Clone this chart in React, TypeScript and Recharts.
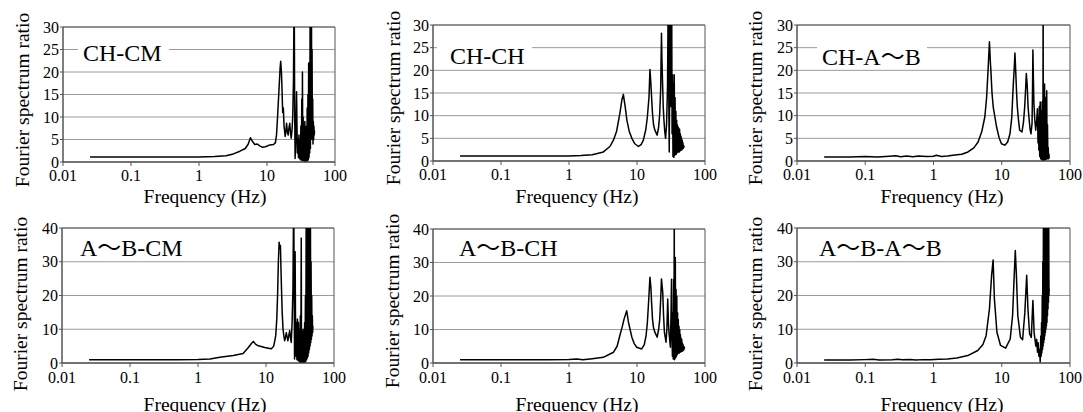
import { CartesianGrid, Line, LineChart, ReferenceArea, XAxis, YAxis } from "recharts";

type Pt = [number, number];

const FONT = "'Liberation Serif', 'Times New Roman', 'Noto Sans CJK JP', serif";

const freqTicks = [0.01, 0.1, 1, 10, 100];
const ticks30 = [0, 5, 10, 15, 20, 25, 30];
const ticks40 = [0, 10, 20, 30, 40];
const titles = ["CH-CM", "CH-CH", "CH-A～B", "A～B-CM", "A～B-CH", "A～B-A～B"];
const xTitle = "Frequency (Hz)";
const yTitle = "Fourier spectrum ratio";

// [frequency Hz, spectrum ratio]
const chCm: Pt[] = [
  [0.025, 1.1], [0.05, 1.1], [0.1, 1.1], [0.3, 1.1], [1, 1.1], [1.7, 1.2], [2.5, 1.4], [3.2, 1.8],
  [4, 2.4], [4.8, 3.0], [5.3, 4.0], [5.7, 5.4], [6.1, 4.6], [6.6, 3.9], [7.2, 4.0], [7.8, 3.6],
  [8.5, 3.3], [9.5, 3.4], [11, 3.8], [12.5, 3.9], [13.3, 4.3], [13.8, 6], [14.3, 10], [15, 16],
  [15.6, 21], [15.9, 22.4], [16.3, 20], [16.6, 16.5], [17, 11], [17.4, 12], [17.8, 8], [18.5, 5.7],
  [19, 7], [19.4, 8.6], [20, 6.5], [20.5, 6], [21, 7.5], [21.6, 8.6], [22.2, 6.5], [22.7, 5.3],
  [23.3, 7], [23.9, 10], [24.5, 18], [25.1, 40], [25.5, 12], [25.9, 0.8], [26.5, 5], [27.2, 15.6],
  [27.6, 8], [27.9, 2], [28.5, 5], [29, 1], [29.5, 6], [30, 0.8], [30.5, 5], [31, 0.5], [31.5, 8],
  [32, 0.5], [32.5, 14], [33, 0.3], [33.2, 20], [33.6, 1], [34, 10], [34.5, 0.3], [35, 7],
  [35.5, 0.2], [36, 9], [36.5, 0.2], [37, 6], [37.5, 0.2], [38, 8], [38.5, 0.2], [39, 12],
  [39.5, 0.3], [40, 15], [40.5, 0.5], [41, 22], [41.5, 1], [42, 15], [42.5, 2], [43, 30],
  [43.5, 3], [44, 40], [44.5, 5], [45, 40], [45.5, 6], [46, 25], [46.5, 5], [47, 14], [47.5, 4],
  [48, 9], [48.5, 5], [49, 8], [49.5, 6], [50, 7],
];

const chCh: Pt[] = [
  [0.025, 1.1], [0.1, 1.1], [0.5, 1.1], [1, 1.1], [1.5, 1.2], [2.2, 1.4], [3.2, 2.0], [4.0, 3.2],
  [4.5, 4.6], [5.0, 6.5], [5.6, 10.5], [6.0, 13.5], [6.3, 14.7], [6.7, 12], [7.1, 9], [7.7, 6.5],
  [8.4, 5], [9.3, 3.8], [10.5, 3.2], [11.5, 3.6], [12.4, 4.6], [13.5, 7], [14.2, 9.7], [15, 14],
  [15.5, 20.2], [15.9, 17.8], [16.4, 14], [16.9, 10.5], [17.5, 8], [18.3, 6.8], [19.8, 5.7],
  [20.8, 7.5], [21.6, 10.5], [22.3, 16], [22.9, 28.2], [23.3, 22], [23.7, 17.8], [24.3, 12],
  [24.9, 9], [25.6, 6.5], [26.3, 5], [27.2, 8], [28.1, 16.4], [28.6, 31], [29, 40], [29.4, 12],
  [29.8, 2], [30.3, 20], [30.8, 40], [31.3, 12], [31.8, 35], [32.3, 40], [32.8, 6], [33.3, 19],
  [33.8, 1], [34.3, 17], [34.8, 0.8], [35.3, 19], [35.8, 1.2], [36.3, 14], [36.8, 1.5], [37.3, 11],
  [37.8, 1.5], [38.3, 9], [38.8, 1.8], [39.3, 8], [39.8, 2], [40.3, 7.5], [40.8, 2], [41.3, 7.2],
  [41.8, 2], [42.3, 7], [42.8, 2.2], [43.3, 6], [43.8, 2.3], [44.3, 5.5], [44.8, 2.4], [45.3, 5],
  [45.8, 2.5], [46.3, 4.5], [46.8, 2.7], [47.3, 4], [47.8, 2.8], [48.3, 3.5], [48.8, 3], [49.3, 3.3],
];

const chAb: Pt[] = [
  [0.025, 0.9], [0.06, 0.9], [0.1, 1.0], [0.15, 0.9], [0.2, 1.0], [0.28, 1.15], [0.33, 0.95],
  [0.4, 1.1], [0.5, 0.95], [0.6, 1.1], [0.8, 1.0], [1.0, 1.05], [1.1, 1.25], [1.3, 1.0], [1.6, 1.1],
  [2.05, 1.3], [2.6, 1.5], [3.2, 2.0], [3.9, 2.9], [4.5, 4.2], [5.1, 6.5], [5.65, 9.7], [6.0, 14],
  [6.3, 20], [6.6, 26.3], [6.8, 22], [6.93, 20], [7.2, 15], [7.5, 11.9], [8.4, 7.5], [9.2, 5],
  [9.9, 3.8], [11.1, 3.5], [12.2, 4.2], [13.2, 6], [14, 9.5], [14.7, 16.4], [15.3, 21], [15.6, 23.8],
  [16, 20], [16.5, 15], [16.9, 12], [17.6, 9], [18.3, 6.8], [19.8, 6.4], [20.8, 8.5], [21.7, 12],
  [22.4, 16], [22.9, 19.3], [23.6, 16.7], [24.3, 12], [25, 9.7], [26, 7], [26.8, 6], [27.8, 8.3],
  [28.2, 15], [28.6, 24.5], [29.1, 18], [29.6, 12.7], [30.5, 9], [31.5, 6.8], [32.5, 9], [33.3, 11.5],
  [34, 4], [34.5, 10], [35, 2.4], [35.5, 12], [36, 1], [36.6, 13], [37.2, 0.5], [37.8, 11],
  [38.4, 0.3], [39, 13], [39.6, 0.2], [40.2, 14], [40.4, 40], [40.6, 0.1], [41.2, 14], [41.8, 0.2],
  [42.4, 17], [43, 0.3], [43.6, 14], [44.2, 0.3], [44.8, 13], [45.3, 0.5], [45.6, 15.5], [46.2, 0.5],
  [46.8, 8], [47.4, 0.5], [48, 3], [48.6, 0.5], [49.2, 1.5], [49.6, 0.6],
];

const abCm: Pt[] = [
  [0.025, 1.0], [0.1, 1.0], [0.5, 1.0], [1, 1.05], [1.5, 1.2], [2.1, 1.7], [3.3, 2.2], [4.6, 2.8],
  [5.5, 4.6], [6.1, 5.8], [6.5, 6.4], [7.0, 5.6], [7.7, 5.1], [8.5, 4.9], [9.6, 4.6], [10.8, 4.4],
  [12, 4.2], [13, 5], [13.9, 8.1], [14.4, 13], [14.8, 20], [15.2, 30], [15.6, 35.8], [16.0, 34],
  [16.3, 34.8], [16.6, 28], [16.9, 22], [17.3, 15], [17.8, 10], [18.3, 8], [18.8, 6.6], [19.3, 7.5],
  [19.9, 9], [20.5, 7.5], [21, 6.6], [21.6, 8], [22.3, 9.6], [22.9, 7.5], [23.5, 6.1], [24.2, 12],
  [24.9, 22], [25.3, 40], [25.6, 48], [26.0, 20], [26.3, 1.2], [26.8, 33], [27.2, 10], [27.6, 2],
  [28, 12], [28.5, 1], [29, 13], [29.5, 0.8], [30, 12], [30.5, 0.5], [31, 10], [31.5, 0.3], [32, 14],
  [32.5, 0.2], [33, 37], [33.3, 0.1], [34, 10], [34.5, 0.1], [35, 9], [35.5, 0.1], [36, 10],
  [36.5, 0.2], [37, 12], [37.5, 0.3], [38, 20], [38.5, 0.5], [39, 45], [39.5, 1], [40, 45],
  [40.5, 1.5], [41, 45], [41.5, 2], [42, 45], [42.5, 3], [43, 45], [43.5, 4], [44, 45], [44.5, 5],
  [45, 45], [45.5, 6], [46, 30], [46.5, 7], [47, 20], [47.5, 8], [48, 14], [48.5, 9], [49, 11],
];

const abCh: Pt[] = [
  [0.025, 1.0], [0.1, 1.0], [0.5, 1.0], [1, 1.05], [1.3, 1.2], [1.6, 1.0], [2.2, 1.3], [3.2, 1.7],
  [4.5, 3.2], [5.1, 5], [5.6, 8.2], [6.1, 11], [6.45, 13.1], [7.06, 15.6], [7.5, 12.1], [8.4, 7.7],
  [9.1, 5.8], [9.9, 4.7], [11.7, 4.2], [12.8, 5.5], [13.6, 8.2], [14.2, 12], [14.7, 17.1],
  [15.5, 25.6], [16, 22.6], [16.4, 18], [16.9, 13.1], [17.5, 10.5], [18.3, 9.2], [19.8, 7.7],
  [20.8, 10], [21.6, 13], [22.3, 19], [22.9, 25.1], [23.4, 23], [23.9, 21.1], [24.6, 14], [25.3, 9.2],
  [26.7, 6.2], [27.5, 10], [28.3, 19.1], [29, 12], [29.6, 9], [31, 4.7], [31.6, 14], [32.2, 25],
  [32.7, 8], [33.2, 2], [33.7, 15], [34.1, 1.2], [34.6, 25], [35.0, 2], [35.3, 45], [35.6, 1],
  [36.1, 28], [36.6, 31.5], [37, 1.5], [37.5, 22], [38, 2], [38.5, 20], [39, 2.5], [39.5, 15],
  [40, 2.8], [40.5, 13], [41, 3], [41.5, 11], [42, 3], [42.5, 10], [43, 3.2], [43.5, 8.5], [44, 3.3],
  [44.5, 7.5], [45, 3.5], [45.5, 7], [46, 3.5], [46.5, 6], [47, 3.6], [47.5, 5.5], [48, 3.8],
  [48.5, 5], [49, 4], [49.5, 4.8], [50, 4.3],
];

const abAb: Pt[] = [
  [0.025, 0.9], [0.06, 0.9], [0.1, 1.0], [0.13, 1.1], [0.16, 0.9], [0.25, 0.95], [0.3, 1.1],
  [0.35, 0.95], [0.45, 1.05], [0.55, 0.9], [0.7, 1.0], [0.9, 0.95], [1.2, 1.1], [1.6, 1.2],
  [2.2, 1.5], [3.18, 2.2], [4.45, 3.7], [5.3, 5.5], [5.9, 8.1], [6.6, 16], [7.1, 25.9], [7.47, 30.5],
  [7.8, 19], [8.5, 9.1], [9.6, 5.2], [11.4, 4.4], [13.3, 7.1], [14.4, 14], [15.3, 26.9], [15.8, 33.3],
  [16.4, 25.9], [17.2, 14], [18.8, 7.6], [20.2, 6.9], [21.8, 15], [23.2, 26], [24.2, 16], [25.6, 8.6],
  [27.1, 7.6], [28.6, 18.5], [29.8, 9], [31.6, 5], [32.5, 7], [33.4, 3.2], [34.2, 6], [35, 2],
  [35.8, 4], [36.6, 0.3], [37.3, 8], [37.8, 2], [38.3, 12], [38.7, 3], [39.2, 20], [39.6, 4],
  [40, 30], [40.4, 5], [40.8, 45], [41.2, 6], [41.6, 45], [42, 7], [42.4, 45], [42.8, 8], [43.2, 45],
  [43.6, 9], [44, 45], [44.4, 10], [44.8, 45], [45.2, 11], [45.6, 45], [46, 12], [46.4, 45],
  [46.8, 14], [47.2, 45], [47.6, 16], [48, 45], [48.4, 18], [48.8, 40], [49.2, 20], [49.6, 22],
];

const panels = [
  { title: titles[0], data: chCm, yMax: 30, yTicks: ticks30 },
  { title: titles[1], data: chCh, yMax: 30, yTicks: ticks30 },
  { title: titles[2], data: chAb, yMax: 30, yTicks: ticks30 },
  { title: titles[3], data: abCm, yMax: 40, yTicks: ticks40 },
  { title: titles[4], data: abCh, yMax: 40, yTicks: ticks40 },
  { title: titles[5], data: abAb, yMax: 40, yTicks: ticks40 },
];

// page positions: plot box, y title centre, x title centre, panel title start/baseline, white box
const layout = [
  { l: 63, t: 27, w: 272, h: 135, yLab: [22, 100], xLab: [205, 196], tit: [83, 61], box: [78, 40, 91, 26], tm: 4 },
  { l: 433, t: 25, w: 272, h: 136, yLab: [393, 98], xLab: [577, 196], tit: [450, 64], box: [437, 42, 95, 27], tm: 4 },
  { l: 797, t: 25, w: 273, h: 136, yLab: [755, 98], xLab: [942, 196], tit: [822, 65], box: [817, 42, 110, 27], tm: 4 },
  { l: 62, t: 228, w: 272, h: 135, yLab: [20, 304], xLab: [205, 404], tit: [80, 256], box: [75, 234, 115, 25], tm: 5 },
  { l: 433, t: 229, w: 272, h: 134, yLab: [392, 301], xLab: [577, 404], tit: [459, 256], box: [454, 234, 109, 25], tm: 5 },
  { l: 797, t: 228, w: 273, h: 135, yLab: [755, 304], xLab: [942, 404], tit: [819, 256], box: [814, 234, 130, 25], tm: 5 },
];

const PAD_L = 72;
const PAD_T = 30;
const PAD_R = 14;
const PAD_B = 52;

function Panel({ idx }: { idx: number }) {
  const p = panels[idx];
  const g = layout[idx];
  const left = g.l - PAD_L;
  const top = g.t - PAD_T;
  const rows = p.data.map(([f, v]) => ({ f, v }));

  const yLabel = () => (
    <text
      transform={`translate(${g.yLab[0] - left},${g.yLab[1] - top}) rotate(-90)`}
      textAnchor="middle"
      dominantBaseline="central"
      fontFamily={FONT}
      fontSize={19.5}
      fill="#000"
    >
      {yTitle}
    </text>
  );
  const xLabel = () => (
    <text
      x={g.xLab[0] - left}
      y={g.xLab[1] - top}
      textAnchor="middle"
      dominantBaseline="central"
      fontFamily={FONT}
      fontSize={19.5}
      fill="#000"
    >
      {xTitle}
    </text>
  );
  const titleLabel = () => (
    <g>
      <rect x={g.box[0] - left} y={g.box[1] - top} width={g.box[2]} height={g.box[3]} fill="#fff" />
      <text x={g.tit[0] - left} y={g.tit[1] - top} fontFamily={FONT} fontSize={24} fill="#000">
        {p.title}
      </text>
    </g>
  );

  return (
    <div style={{ position: "absolute", left, top }}>
      <LineChart
        width={g.w + PAD_L + PAD_R}
        height={g.h + PAD_T + PAD_B}
        data={rows}
        margin={{ top: PAD_T, right: PAD_R, bottom: 0, left: 0 }}
      >
        <CartesianGrid vertical={false} stroke="#9a9a9a" strokeWidth={1} />
        <XAxis
          dataKey="f"
          type="number"
          scale="log"
          domain={[0.01, 100]}
          ticks={freqTicks}
          interval={0}
          tickFormatter={(v: number) => String(v)}
          allowDataOverflow
          height={PAD_B}
          axisLine={{ stroke: "#555" }}
          tickLine={{ stroke: "#555" }}
          tickSize={4}
          tickMargin={g.tm}
          tick={{ fontFamily: FONT, fontSize: 16, fill: "#000" }}
          label={xLabel}
        />
        <YAxis
          type="number"
          domain={[0, p.yMax]}
          ticks={p.yTicks}
          interval={0}
          allowDataOverflow
          width={PAD_L}
          axisLine={{ stroke: "#555" }}
          tickLine={{ stroke: "#555" }}
          tickSize={3}
          tickMargin={1}
          tick={{ fontFamily: FONT, fontSize: 16, fill: "#000" }}
          label={yLabel}
        />
        <ReferenceArea
          x1={0.01}
          x2={100}
          y1={0}
          y2={p.yMax}
          fill="none"
          fillOpacity={0}
          stroke="#555"
          strokeWidth={1}
          ifOverflow="visible"
          label={titleLabel}
        />
        <Line
          dataKey="v"
          type="linear"
          stroke="#000"
          strokeWidth={1.5}
          strokeLinejoin="round"
          dot={false}
          activeDot={false}
          isAnimationActive={false}
        />
      </LineChart>
    </div>
  );
}

export default function App() {
  return (
    <div style={{ position: "absolute", left: 0, top: 0, width: 1083, height: 412, background: "#fff", overflow: "hidden" }}>
      {panels.map((_, i) => (
        <Panel key={i} idx={i} />
      ))}
    </div>
  );
}
